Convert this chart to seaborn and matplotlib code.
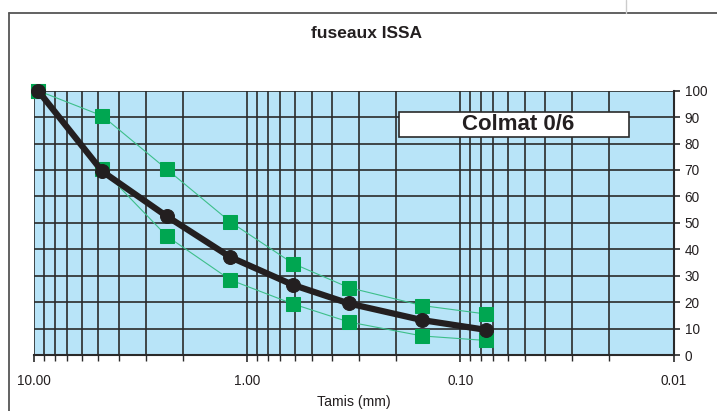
import numpy as np
import pandas as pd
import matplotlib
matplotlib.use("Agg")
import matplotlib.pyplot as plt
import seaborn as sns
from matplotlib.lines import Line2D
from matplotlib.patches import Rectangle
from matplotlib.ticker import LogLocator, FixedLocator, FixedFormatter, NullFormatter

# ---- data ----
tamis = [9.6, 4.8, 2.39, 1.2, 0.61, 0.334, 0.151, 0.0757]
colmat = [100, 69.5, 52.5, 37, 26.5, 19.5, 13.2, 9.5]
fuseau_sup = [100, 90.5, 70.3, 50.3, 34.6, 25.5, 18.7, 15.5]
fuseau_inf = [100, 70.3, 45, 28.4, 19.3, 12.5, 7.2, 5.5]
x_major = [10, 1, 0.1, 0.01]
x_labels = ["10.00", "1.00", "0.10", "0.01"]
y_ticks = list(range(0, 101, 10))
title = "fuseaux ISSA"
legend_label = "Colmat 0/6"
x_title = "Tamis (mm)"

sns.set_theme(style="white")
plt.rcParams["font.family"] = ["Liberation Sans", "DejaVu Sans"]

W, H = 717, 411
fig = plt.figure(figsize=(W / 100, H / 100), dpi=100)
ax = fig.add_axes([34.3 / W, 1 - 355 / H, (673.5 - 34.3) / W, (355 - 90.7) / H])
ax.set_facecolor("#B8E4F8")

df = pd.DataFrame({"tamis": tamis, "colmat": colmat, "sup": fuseau_sup, "inf": fuseau_inf})

green_line = "#3DBF8A"
green_mk = "#00A651"
for col in ["sup", "inf"]:
    sns.lineplot(data=df, x="tamis", y=col, ax=ax, color=green_line, lw=0.8,
                 marker="s", markersize=9.5, markerfacecolor=green_mk,
                 markeredgecolor=green_mk, sort=False, zorder=3, clip_on=False)
sns.lineplot(data=df, x="tamis", y="colmat", ax=ax, color="#231F20", lw=4.5,
             marker="o", markersize=10, markerfacecolor="#231F20",
             markeredgecolor="#231F20", sort=False, zorder=4, clip_on=False)

ax.set_xscale("log")
ax.set_xlim(10, 0.01)
ax.set_ylim(0, 100)

ax.xaxis.set_major_locator(FixedLocator(x_major))
ax.xaxis.set_major_formatter(FixedFormatter(x_labels))
ax.xaxis.set_minor_locator(LogLocator(base=10, subs=np.arange(2, 10)))
ax.xaxis.set_minor_formatter(NullFormatter())

ax.yaxis.tick_right()
ax.set_yticks(y_ticks)
ax.set_yticklabels([str(v) for v in y_ticks])

ax.grid(True, which="both", axis="x", color="#2A2A2A", lw=1.2)
ax.grid(True, which="major", axis="y", color="#2A2A2A", lw=1.2)
ax.set_axisbelow(True)

ax.tick_params(axis="x", which="major", direction="out", length=5, width=1.2,
               color="#2A2A2A", labelsize=9.8, pad=9, bottom=True)
ax.tick_params(axis="x", which="minor", direction="out", length=4, width=1.0,
               color="#2A2A2A", bottom=True)
ax.tick_params(axis="y", which="major", direction="out", length=4, width=1.2,
               color="#2A2A2A", labelsize=9.8, right=True, left=False, pad=4)
for lab in ax.get_xticklabels() + ax.get_yticklabels():
    lab.set_color("#231F20")

for s in ["left", "top"]:
    ax.spines[s].set_visible(False)
for s in ["bottom", "right"]:
    ax.spines[s].set_color("#2A2A2A")
    ax.spines[s].set_linewidth(1.5)

ax.set_xlabel(x_title, fontsize=10.2, color="#231F20", labelpad=5)
ax.set_ylabel("")

fig.text(367 / W, 1 - 34 / H, title, ha="center", va="center", fontsize=12.5,
         fontweight="bold", color="#231F20")

# legend-like label box
bx0, by0, bx1, by1 = 399, 112, 629, 137
fig.add_artist(Rectangle((bx0 / W, 1 - by1 / H), (bx1 - bx0) / W, (by1 - by0) / H,
                         transform=fig.transFigure, facecolor="white",
                         edgecolor="#2A2A2A", lw=1.2, zorder=10))
fig.text(518 / W, 1 - 124.5 / H, legend_label, ha="center", va="center", fontsize=16,
         fontweight="bold", color="#231F20", zorder=11)

# outer frame lines
fig.add_artist(Line2D([9 / W, 1], [1 - 13 / H, 1 - 13 / H], transform=fig.transFigure,
                      color="#555555", lw=1.3))
fig.add_artist(Line2D([9 / W, 9 / W], [0, 1 - 13 / H], transform=fig.transFigure,
                      color="#555555", lw=1.3))
fig.add_artist(Line2D([625.7 / W, 625.7 / W], [1 - 13 / H, 1], transform=fig.transFigure,
                      color="#CCCCCC", lw=1.0))

fig.savefig("out.png", dpi=100)
